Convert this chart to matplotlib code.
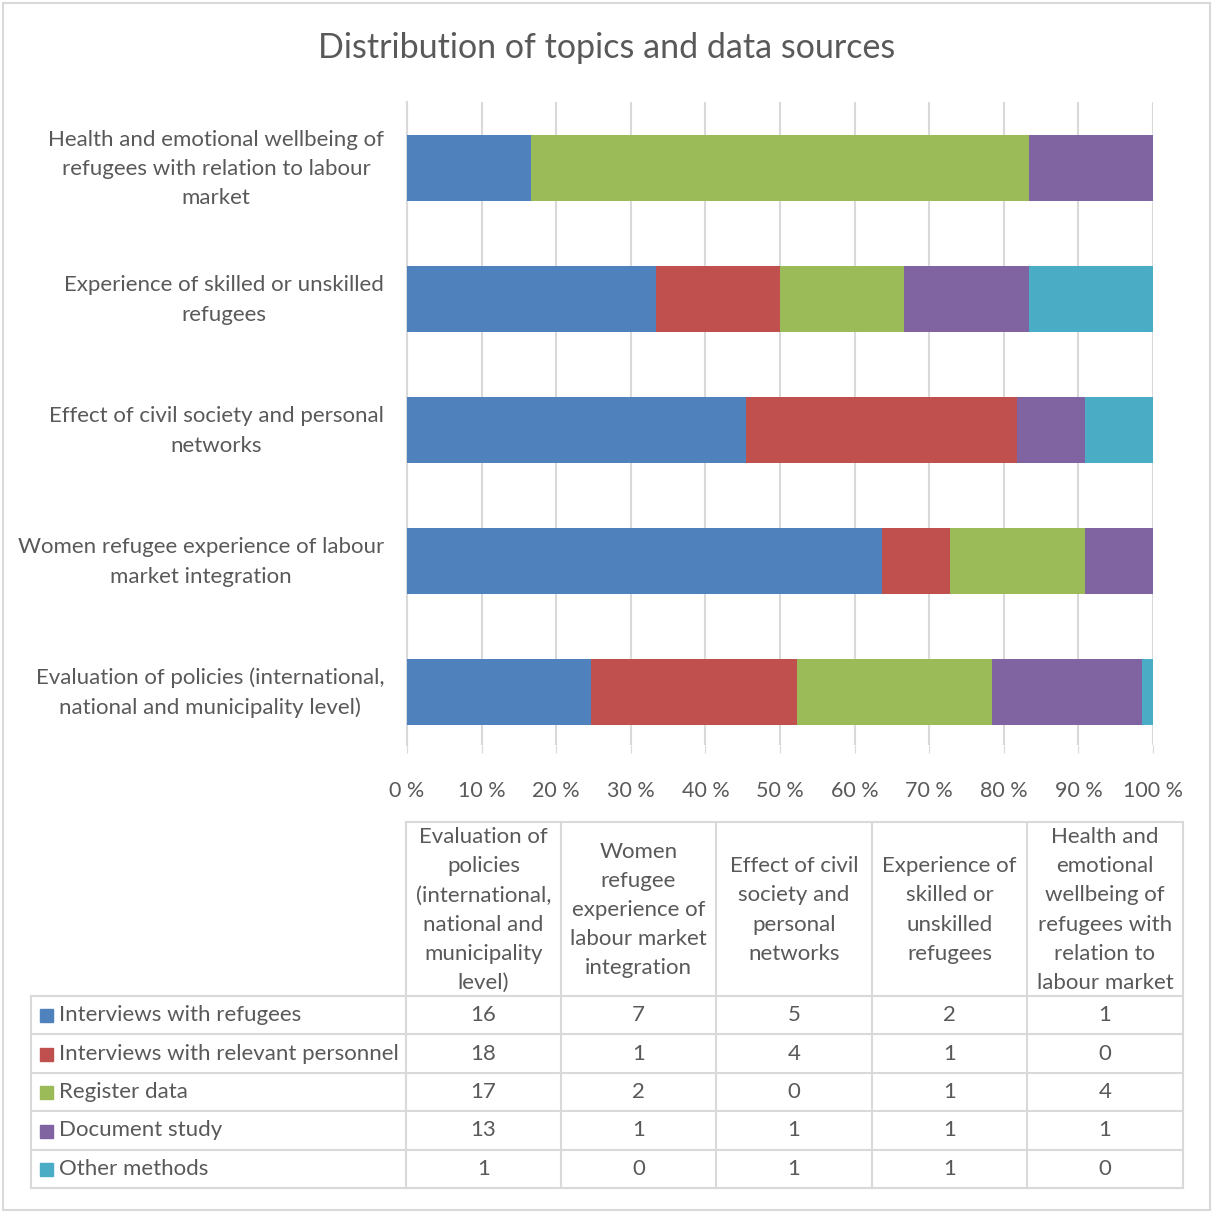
import matplotlib.pyplot as plt
from matplotlib.lines import Line2D
from matplotlib.patches import Rectangle
from matplotlib.transforms import ScaledTranslation, blended_transform_factory

plt.rcParams['font.family'] = ['Lato', 'DejaVu Sans']

topics = [
    "Evaluation of policies (international,\nnational and municipality level)",
    "Women refugee experience of labour\nmarket integration",
    "Effect of civil society and personal\nnetworks",
    "Experience of skilled or unskilled\nrefugees",
    "Health and emotional wellbeing of\nrefugees with relation to labour\nmarket",
]
table_headers = [
    "Evaluation of\npolicies\n(international,\nnational and\nmunicipality\nlevel)",
    "Women\nrefugee\nexperience of\nlabour market\nintegration",
    "Effect of civil\nsociety and\npersonal\nnetworks",
    "Experience of\nskilled or\nunskilled\nrefugees",
    "Health and\nemotional\nwellbeing of\nrefugees with\nrelation to\nlabour market",
]
methods = ["Interviews with refugees", "Interviews with relevant personnel",
           "Register data", "Document study", "Other methods"]
refugees = [16, 7, 5, 2, 1]
personnel = [18, 1, 4, 1, 0]
register = [17, 2, 0, 1, 4]
documents = [13, 1, 1, 1, 1]
other = [1, 0, 1, 1, 0]
series = [refugees, personnel, register, documents, other]
colors = ["#4F81BD", "#C0504D", "#9BBB59", "#8064A2", "#4BACC6"]
tick_labels = ["0 %", "10 %", "20 %", "30 %", "40 %", "50 %",
               "60 %", "70 %", "80 %", "90 %", "100 %"]

W, H = 1212, 1214
txt = "#595959"
grid = "#D9D9D9"
fs = 16
ls = 1.57

fig = plt.figure(figsize=(W / 100, H / 100), dpi=100)


def fx(px):
    return px / W


def fy(py):
    return 1 - py / H


def hline(y, x0, x1):
    fig.add_artist(Line2D([fx(x0), fx(x1)], [fy(y), fy(y)], color=grid, lw=1.5))


def vline(x, y0, y1):
    fig.add_artist(Line2D([fx(x), fx(x)], [fy(y0), fy(y1)], color=grid, lw=1.5))


# outer frame
fig.add_artist(Rectangle((fx(3), fy(1210)), fx(1207), 1207 / H, fill=False,
                         edgecolor=grid, lw=1.5))

fig.text(fx(607), fy(48), "Distribution of topics and data sources",
         ha="center", va="center", fontsize=24.5, color=txt)

ax_top, ax_bot = 102, 745
ax = fig.add_axes([fx(407), fy(ax_bot), fx(1153) - fx(407), (ax_bot - ax_top) / H])

totals = [sum(s[i] for s in series) for i in range(len(topics))]
left = [0.0] * len(topics)
for vals, c, name in zip(series, colors, methods):
    pct = [v / t * 100 for v, t in zip(vals, totals)]
    ax.barh(range(len(topics)), pct, left=left, height=0.51, color=c, label=name, zorder=3)
    left = [l + p for l, p in zip(left, pct)]

ax.set_xlim(0, 100)
ax.set_ylim(-(ax_bot - 692) / 131, 4 + (168 - ax_top) / 131)
ax.set_xticks(range(0, 101, 10))
ax.set_xticklabels(tick_labels, fontsize=15.5, color=txt)
ax.set_yticks([])
# category labels drawn as text, right-aligned left of the axis
lab_tr = blended_transform_factory(ax.transAxes, ax.transData) + \
    ScaledTranslation(-0.23, -0.01, fig.dpi_scale_trans)
for i, t in enumerate(topics):
    ax.text(0, i, t, transform=lab_tr, ha="right", va="center", fontsize=fs,
            color=txt, linespacing=ls, multialignment="center")
ax.tick_params(axis="x", length=6, color=grid, pad=20)
ax.grid(axis="x", color=grid, lw=1.5, zorder=0)
for s in ["top", "right", "bottom"]:
    ax.spines[s].set_visible(False)
ax.spines["left"].set_color(grid)
ax.spines["left"].set_linewidth(1.5)

# data table
col_x = [31, 406, 561, 716, 872, 1027, 1183]
row_y = [822, 996, 1034, 1073, 1111, 1150, 1188]
hline(row_y[0], col_x[1], col_x[-1])
for y in row_y[1:]:
    hline(y, col_x[0], col_x[-1])
for x in col_x[1:]:
    vline(x, row_y[0], row_y[-1])
vline(col_x[0], row_y[1], row_y[-1])

for j, head in enumerate(table_headers):
    cx = (col_x[j + 1] + col_x[j + 2]) / 2
    fig.text(fx(cx), fy((row_y[0] + row_y[1]) / 2 + 1), head, ha="center", va="center",
             fontsize=fs, color=txt, linespacing=ls)

for i, (vals, c, name) in enumerate(zip(series, colors, methods)):
    cy = (row_y[i + 1] + row_y[i + 2]) / 2
    fig.add_artist(Rectangle((fx(40), fy(cy + 7)), fx(13), 13 / H, color=c))
    fig.text(fx(59), fy(cy), name, ha="left", va="center", fontsize=fs, color=txt)
    for j, v in enumerate(vals):
        cx = (col_x[j + 1] + col_x[j + 2]) / 2
        fig.text(fx(cx), fy(cy), str(v), ha="center", va="center", fontsize=fs, color=txt)

fig.savefig("out.png", dpi=100)
